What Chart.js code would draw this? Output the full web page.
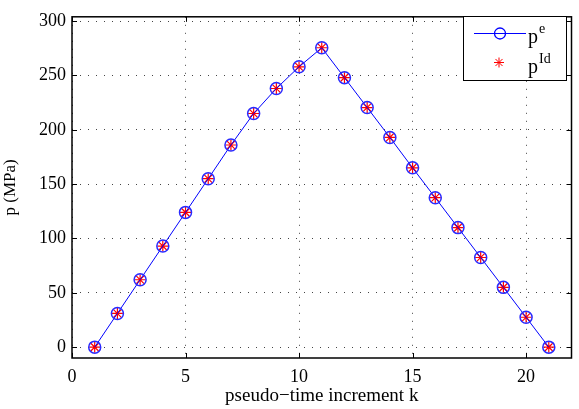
<!DOCTYPE html>
<html>
<head>
<meta charset="utf-8">
<script src="https://cdn.jsdelivr.net/npm/chart.js@4"></script>
<style>
  html, body { margin:0; padding:0; background:#fff; }
  #wrap { width:579px; height:409px; position:relative; }
</style>
</head>
<body>
<div id="wrap"><canvas id="pChart"></canvas></div>
<script>
// pseudo-time increments and pressures
const kSteps = [1,2,3,4,5,6,7,8,9,10,11,12,13,14,15,16,17,18,19,20,21];
const pElastic = [0,31,62,93,124,155,186,215,238,258,275.5,248,220.5,193,165,137.5,110,82.5,55,27.5,0];
const pIdeal   = [0,31,62,93,124,155,186,215,238,258,275.5,248,220.5,193,165,137.5,110,82.5,55,27.5,0];
const xTicks = [0,5,10,15,20];
const yTicks = [0,50,100,150,200,250,300];

const SERIF = "'Liberation Serif', 'Times New Roman', serif";

// MATLAB-ish box with inward ticks and a hand drawn legend
const boxPlugin = {
  id:"box",
  afterDraw(chart) {
    const { ctx, chartArea:a, scales } = chart;
    ctx.save();
    ctx.strokeStyle = "#000";
    ctx.lineWidth = 1;
    xTicks.forEach(v => {
      const x = Math.round(scales.x.getPixelForValue(v)) + .5;
      ctx.beginPath();
      ctx.moveTo(x, a.bottom); ctx.lineTo(x, a.bottom - 5);
      ctx.moveTo(x, a.top); ctx.lineTo(x, a.top + 5);
      ctx.stroke();
    });
    yTicks.forEach(v => {
      const y = Math.round(scales.y.getPixelForValue(v)) + .5;
      ctx.beginPath();
      ctx.moveTo(a.left, y); ctx.lineTo(a.left + 5, y);
      ctx.moveTo(a.right, y); ctx.lineTo(a.right - 5, y);
      ctx.stroke();
    });
    ctx.lineWidth = 1.5;
    ctx.strokeRect(a.left, a.top, a.right - a.left, a.bottom - a.top);

    // legend
    const lx = 463.5, ly = 16.5, lw = 103, lh = 64;
    ctx.fillStyle = "#fff";
    ctx.fillRect(lx, ly, lw, lh);
    ctx.lineWidth = 1;
    ctx.strokeRect(lx, ly, lw, lh);

    ctx.strokeStyle = "#0000ff";
    ctx.beginPath();
    ctx.moveTo(474, 33.5); ctx.lineTo(526, 33.5);
    ctx.stroke();
    ctx.lineWidth = 1.3;
    ctx.beginPath();
    ctx.arc(500, 33.5, 5.5, 0, Math.PI * 2);
    ctx.stroke();

    ctx.strokeStyle = "#ff0000";
    ctx.lineWidth = 1;
    ctx.beginPath();
    for (let i = 0; i < 4; i++) {
      const ang = i * Math.PI / 4;
      ctx.moveTo(499 - 5 * Math.cos(ang), 62.5 - 5 * Math.sin(ang));
      ctx.lineTo(499 + 5 * Math.cos(ang), 62.5 + 5 * Math.sin(ang));
    }
    ctx.stroke();

    ctx.fillStyle = "#000";
    ctx.textBaseline = "alphabetic";
    ctx.textAlign = "left";
    ctx.font = "20px " + SERIF;
    ctx.fillText("p", 528, 43);
    ctx.fillText("p", 528, 73);
    ctx.font = "14px " + SERIF;
    ctx.fillText("e", 539, 33);
    ctx.fillText("Id", 539, 63);
    ctx.restore();
  }
};

new Chart(document.getElementById("pChart"), {
  type:"line",
  data:{
    datasets:[{
      label:"pe",
      data:kSteps.map((k,i) => ({ x:k, y:pElastic[i] })),
      borderColor:"#0000ff",
      borderWidth:1,
      pointStyle:"circle",
      pointRadius:6,
      pointBorderColor:"#2a2aff",
      pointBackgroundColor:"rgba(0,0,0,0)",
      pointBorderWidth:1.5,
      tension:0
    },{
      label:"pId",
      data:kSteps.map((k,i) => ({ x:k, y:pIdeal[i] })),
      showLine:false,
      pointStyle:"star",
      pointRadius:5.5,
      pointBorderColor:"#ff0000",
      pointBorderWidth:1.2
    }]
  },
  options:{
    responsive:true,
    maintainAspectRatio:false,
    animation:false,
    events:[],
    layout:{ padding:{ top:6, right:4, left:0, bottom:0 } },
    plugins:{ legend:{ display:false }, tooltip:{ enabled:false } },
    scales:{
      x:{
        type:"linear",
        min:0, max:22,
        afterFit:s => { s.height = 51; },
        afterBuildTicks:s => { s.ticks = xTicks.map(v => ({ value:v })); },
        border:{ display:false, dash:[1,7] },
        grid:{ color:"#444", lineWidth:1, drawTicks:false },
        ticks:{ color:"#000", padding:8, font:{ family:SERIF, size:18 } },
        title:{ display:true, text:"pseudo−time increment k", color:"#000",
                padding:{ top:0, bottom:2 }, font:{ family:SERIF, size:19 } }
      },
      y:{
        min:-10, max:304,
        afterFit:s => { s.width = 72; },
        afterBuildTicks:s => { s.ticks = yTicks.map(v => ({ value:v })); },
        border:{ display:false, dash:[1,7] },
        grid:{ color:"#444", lineWidth:1, drawTicks:false },
        ticks:{ color:"#000", padding:6, font:{ family:SERIF, size:18 } },
        title:{ display:true, text:"p (MPa)", color:"#000",
                padding:{ top:0, bottom:4 }, font:{ family:SERIF, size:17 } }
      }
    }
  },
  plugins:[boxPlugin]
});
</script>
</body>
</html>
